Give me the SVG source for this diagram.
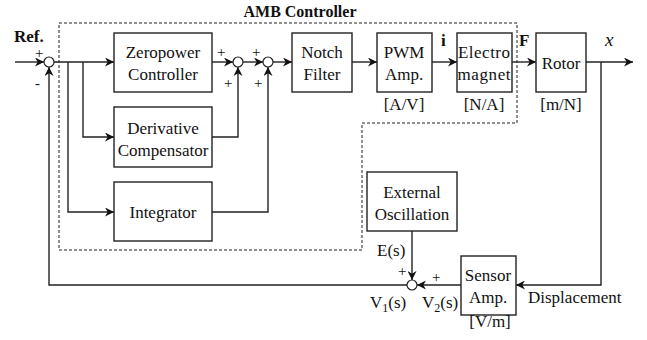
<svg xmlns="http://www.w3.org/2000/svg" width="647" height="340" viewBox="0 0 647 340" font-family="'Liberation Serif', 'DejaVu Serif', serif">
<style>
.box{fill:#fff;stroke:#222;stroke-width:1.4}
.sum{fill:#fff;stroke:#222;stroke-width:1.2}
.ln{fill:none;stroke:#222;stroke-width:1.4}
.dash{fill:none;stroke:#222;stroke-width:1;stroke-dasharray:3,2}
text{font-family:'Liberation Serif','DejaVu Serif',serif;font-size:17px;fill:#111}
.c{text-anchor:middle}
.b{font-weight:bold}
.s{font-size:15px}
</style>
<defs>
<marker id="ar" viewBox="0 0 10 10" refX="10" refY="5" markerWidth="9" markerHeight="9" markerUnits="userSpaceOnUse" orient="auto">
<path d="M0,0 L10,5 L0,10 L3,5 z" fill="#111"/>
</marker>
</defs>
<rect width="647" height="340" fill="#fff"/>
<path class="dash" d="M59,23 H517 V123 H362 V250 H59 Z"/>
<text class="c b" x="300" y="17" style="font-size:16px">AMB Controller</text>
<g id="connectors">
<path class="ln" d="M15,62 H44" marker-end="url(#ar)"/>
<path class="ln" d="M54,62 H114" marker-end="url(#ar)"/>
<path class="ln" d="M68,62 V212 H114" marker-end="url(#ar)"/>
<path class="ln" d="M83,62 V137 H114" marker-end="url(#ar)"/>
<path class="ln" d="M212,62 H233" marker-end="url(#ar)"/>
<path class="ln" d="M212,137 H238 V67" marker-end="url(#ar)"/>
<path class="ln" d="M243,62 H263" marker-end="url(#ar)"/>
<path class="ln" d="M212,212 H268 V67" marker-end="url(#ar)"/>
<path class="ln" d="M273,62 H292" marker-end="url(#ar)"/>
<path class="ln" d="M352,62 H377" marker-end="url(#ar)"/>
<path class="ln" d="M432,62 H457" marker-end="url(#ar)"/>
<path class="ln" d="M512,62 H536" marker-end="url(#ar)"/>
<path class="ln" d="M586,62 H633" marker-end="url(#ar)"/>
<path class="ln" d="M601,62 V285 H516" marker-end="url(#ar)"/>
<path class="ln" d="M461,285 H417" marker-end="url(#ar)"/>
<path class="ln" d="M412,231 V280" marker-end="url(#ar)"/>
<path class="ln" d="M407,285 H49 V67" marker-end="url(#ar)"/>
</g>
<g id="sum0"><circle class="sum" cx="49" cy="62" r="5"/></g>
<g id="sum1"><circle class="sum" cx="238" cy="62" r="5"/></g>
<g id="sum2"><circle class="sum" cx="268" cy="62" r="5"/></g>
<g id="sum3"><circle class="sum" cx="412" cy="285" r="5"/></g>
<g id="zeropower"><rect class="box" x="114" y="33" width="98" height="59"/><text class="c" x="163" y="58">Zeropower</text><text class="c" x="163" y="80">Controller</text></g>
<g id="derivative"><rect class="box" x="114" y="107" width="98" height="60"/><text class="c" x="163" y="134">Derivative</text><text class="c" x="163" y="156">Compensator</text></g>
<g id="integrator"><rect class="box" x="114" y="182" width="98" height="59"/><text class="c" x="163" y="218">Integrator</text></g>
<g id="notch"><rect class="box" x="292" y="33" width="60" height="59"/><text class="c" x="322" y="58">Notch</text><text class="c" x="322" y="80">Filter</text></g>
<g id="pwm"><rect class="box" x="377" y="33" width="55" height="59"/><text class="c" x="404" y="58">PWM</text><text class="c" x="404" y="80">Amp.</text><text class="c" x="404" y="110">[A/V]</text></g>
<g id="electromagnet"><rect class="box" x="457" y="33" width="55" height="59"/><text class="c" x="484" y="58" textLength="52">Electro</text><text class="c" x="484" y="80" textLength="53">magnet</text><text class="c" x="484" y="110">[N/A]</text></g>
<g id="rotor"><rect class="box" x="536" y="33" width="50" height="59"/><text class="c" x="561" y="69">Rotor</text><text class="c" x="561" y="110">[m/N]</text></g>
<g id="external"><rect class="box" x="367" y="172" width="90" height="59"/><text class="c" x="412" y="198">External</text><text class="c" x="412" y="220">Oscillation</text></g>
<g id="sensor"><rect class="box" x="461" y="256" width="55" height="59"/><text class="c" x="488" y="281">Sensor</text><text class="c" x="488" y="303">Amp.</text><text class="c" x="490" y="327">[V/m]</text></g>
<text class="b" x="14" y="42">Ref.</text>
<text class="s" x="35" y="58">+</text>
<text class="s" x="35" y="88">-</text>
<text class="s" x="217" y="57">+</text>
<text class="s" x="224" y="88">+</text>
<text class="s" x="252" y="57">+</text>
<text class="s" x="254" y="88">+</text>
<text class="b" x="441" y="46">i</text>
<text class="b" x="519" y="46">F</text>
<text x="605" y="46" style="font-style:italic;font-size:19px">x</text>
<text x="377" y="256">E(s)</text>
<text class="s" x="398" y="276">+</text>
<text class="s" x="432" y="282">+</text>
<text x="370" y="308">V<tspan dy="4" style="font-size:12px">1</tspan><tspan dy="-4">(s)</tspan></text>
<text x="422" y="308">V<tspan dy="4" style="font-size:12px">2</tspan><tspan dy="-4">(s)</tspan></text>
<text x="528" y="303">Displacement</text>
</svg>
